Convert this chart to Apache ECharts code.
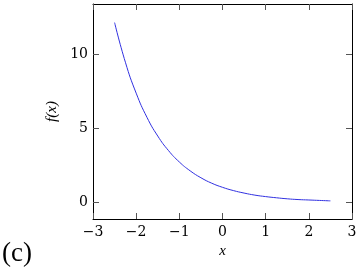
<!DOCTYPE html>
<html>
<head>
<meta charset="utf-8">
<script src="https://cdn.jsdelivr.net/npm/echarts@6/dist/echarts.min.js"></script>
<style>html,body{margin:0;padding:0;background:#fff}#c{width:362px;height:267px}</style>
</head>
<body>
<div id="c"></div>
<script>
var xValues = [-2.5, -2.25, -2.0, -1.75, -1.5, -1.25, -1.0, -0.75, -0.5, -0.25, 0, 0.25, 0.5, 0.75, 1.0, 1.25, 1.5, 1.75, 2.0, 2.25, 2.5];
var yValues = [12.18, 9.49, 7.39, 5.75, 4.48, 3.49, 2.72, 2.12, 1.65, 1.28, 1.0, 0.78, 0.61, 0.47, 0.37, 0.29, 0.22, 0.17, 0.14, 0.11, 0.08];
var xTicks = [-3, -2, -1, 0, 1, 2, 3];
var yTicks = [0, 5, 10];
var panelLabel = '(c)';
var xName = 'x';
var yName = 'f(x)';

var font = 'DejaVu Serif';
var chart = echarts.init(document.getElementById('c'), null, {renderer: 'canvas'});
var data = xValues.map(function (x, i) { return [x, yValues[i]]; });
function fmt(v) { return v < 0 ? '\u2212' + Math.abs(v) : String(v); }

var tickStyle = {show: true, inside: true, length: 6, lineStyle: {color: '#555', width: 1}};
var lineStyle = {show: true, onZero: false, lineStyle: {color: '#000', width: 1}};

chart.setOption({
  animation: false,
  textStyle: {fontFamily: font},
  grid: {left: 93, right: 10, top: 4, bottom: 48, containLabel: false},
  xAxis: [{
    type: 'value', min: -3, max: 3, position: 'bottom',
    axisLine: lineStyle,
    axisTick: Object.assign({}, tickStyle, {customValues: xTicks}),
    axisLabel: {customValues: xTicks, formatter: fmt, fontFamily: font, fontSize: 14, color: '#000', margin: 6},
    splitLine: {show: false},
    name: xName, nameLocation: 'middle', nameGap: 21,
    nameTextStyle: {fontFamily: 'serif', fontStyle: 'italic', fontSize: 15, color: '#000'}
  }, {
    type: 'value', min: -3, max: 3, position: 'top',
    axisLine: lineStyle,
    axisTick: Object.assign({}, tickStyle, {customValues: xTicks}),
    axisLabel: {show: false},
    splitLine: {show: false}
  }],
  yAxis: [{
    type: 'value', min: -1.15, max: 13.44, position: 'left',
    axisLine: lineStyle,
    axisTick: Object.assign({}, tickStyle, {customValues: yTicks}),
    axisLabel: {customValues: yTicks, formatter: fmt, fontFamily: font, fontSize: 14, color: '#000', margin: 5},
    splitLine: {show: false},
    name: yName, nameLocation: 'middle', nameGap: 30, nameRotate: 90,
    nameTextStyle: {fontFamily: 'serif', fontStyle: 'italic', fontSize: 15, color: '#000'}
  }, {
    type: 'value', min: -1.15, max: 13.44, position: 'right',
    axisLine: lineStyle,
    axisTick: Object.assign({}, tickStyle, {customValues: yTicks}),
    axisLabel: {show: false},
    splitLine: {show: false}
  }],
  series: [{
    type: 'line', data: data, xAxisIndex: 0, yAxisIndex: 0,
    smooth: true, showSymbol: false, symbol: 'none',
    lineStyle: {color: '#3030e0', width: 1}
  }],
  graphic: [{
    type: 'text', left: 2, top: 240,
    style: {text: panelLabel, font: '27px "Liberation Serif"', fill: '#000'}
  }]
});
</script>
</body>
</html>
